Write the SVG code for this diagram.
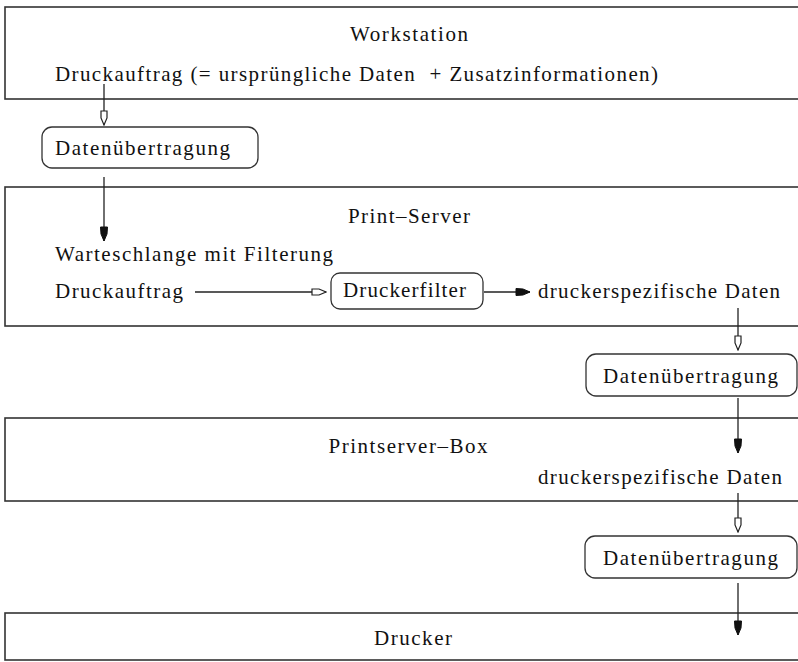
<svg xmlns="http://www.w3.org/2000/svg" width="798" height="662" viewBox="0 0 798 662">
  <style>
    .frame { fill: #fff; stroke: #333; stroke-width: 1.6; }
    .proc { fill: #fff; stroke: #333; stroke-width: 1.3; }
    .lbl { font-family: "Liberation Serif", "Times New Roman", serif; font-size: 21px; fill: #111; }
    .mid { text-anchor: middle; }
    .wire { fill: none; stroke: #222; stroke-width: 1.3; }
    .open { marker-end: url(#headOpen); }
    .solid { marker-end: url(#headSolid); }
  </style>
  <defs>
    <!-- pencil-shaped heads: short shaft block tapering to a point -->
    <marker id="headOpen" markerUnits="userSpaceOnUse" viewBox="0 -4 16 8" refX="15" refY="0" markerWidth="16" markerHeight="8" orient="auto">
      <path d="M1,-3 L8,-3 L15,0 L8,3 L1,3 Z" fill="#fff" stroke="#222" stroke-width="1.2"/>
    </marker>
    <marker id="headSolid" markerUnits="userSpaceOnUse" viewBox="0 -4 16 8" refX="15" refY="0" markerWidth="16" markerHeight="8" orient="auto">
      <path d="M1,-3.5 L8,-3 L15,0 L8,3 L1,3.5 Z" fill="#111" stroke="#111" stroke-width="1"/>
    </marker>
  </defs>

  <g id="workstation">
    <rect class="frame" x="5" y="7" width="800" height="92"/>
    <text class="lbl mid" x="409" y="41" textLength="118">Workstation</text>
    <text class="lbl" x="55" y="81" textLength="603" xml:space="preserve">Druckauftrag (= ursprüngliche Daten  + Zusatzinformationen)</text>
  </g>

  <g id="transfer1">
    <rect class="proc" x="42" y="127" width="216" height="41" rx="10"/>
    <text class="lbl" x="55" y="155" textLength="175">Datenübertragung</text>
  </g>

  <g id="print-server">
    <rect class="frame" x="5" y="187" width="800" height="139"/>
    <text class="lbl mid" x="409" y="223" textLength="122">Print–Server</text>
    <text class="lbl" x="55" y="261" textLength="278">Warteschlange mit Filterung</text>
    <text class="lbl" x="55" y="298" textLength="128">Druckauftrag</text>
    <text class="lbl" x="538" y="298" textLength="242">druckerspezifische Daten</text>
  </g>

  <g id="druckerfilter">
    <rect class="proc" x="331" y="273" width="152" height="36" rx="9"/>
    <text class="lbl" x="343" y="297" textLength="123">Druckerfilter</text>
  </g>

  <g id="transfer2">
    <rect class="proc" x="586" y="354" width="211" height="42" rx="10"/>
    <text class="lbl" x="603" y="383" textLength="175">Datenübertragung</text>
  </g>

  <g id="printserver-box">
    <rect class="frame" x="5" y="418" width="800" height="83"/>
    <text class="lbl mid" x="408" y="453" textLength="159">Printserver–Box</text>
    <text class="lbl" x="538" y="484" textLength="244">druckerspezifische Daten</text>
  </g>

  <g id="transfer3">
    <rect class="proc" x="585" y="536" width="212" height="42" rx="10"/>
    <text class="lbl" x="603" y="565" textLength="175">Datenübertragung</text>
  </g>

  <g id="drucker">
    <rect class="frame" x="5" y="613" width="800" height="47"/>
    <text class="lbl mid" x="413" y="645" textLength="78">Drucker</text>
  </g>

  <g id="connectors">
    <line class="wire open" x1="104" y1="84" x2="104" y2="125"/>
    <line class="wire solid" x1="104" y1="177" x2="104" y2="241"/>
    <line class="wire open" x1="195" y1="292" x2="326" y2="292"/>
    <line class="wire solid" x1="484" y1="292" x2="530" y2="292"/>
    <line class="wire open" x1="738" y1="308" x2="738" y2="350"/>
    <line class="wire solid" x1="738" y1="398" x2="738" y2="453"/>
    <line class="wire open" x1="738" y1="493" x2="738" y2="532"/>
    <line class="wire solid" x1="738" y1="583" x2="738" y2="635"/>
  </g>
</svg>
